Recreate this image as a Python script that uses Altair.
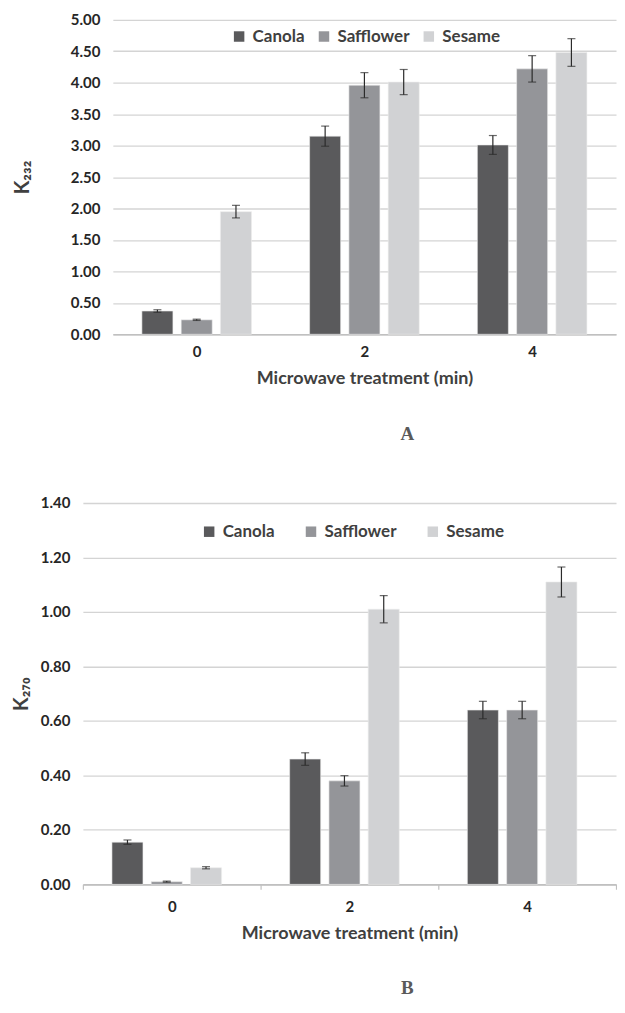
import altair as alt
import pandas as pd

treatments = ["0", "2", "4"]
oils = ["Canola", "Safflower", "Sesame"]
oil_colors = ["#5a5a5c", "#949599", "#d1d2d4"]

# Panel A: K232
k232_canola = [0.37, 3.15, 3.01]
k232_safflower = [0.23, 3.96, 4.22]
k232_sesame = [1.95, 4.01, 4.48]
k232_err_canola = [0.02, 0.16, 0.15]
k232_err_safflower = [0.01, 0.20, 0.21]
k232_err_sesame = [0.10, 0.20, 0.22]
k232_ticks = [0.0, 0.5, 1.0, 1.5, 2.0, 2.5, 3.0, 3.5, 4.0, 4.5, 5.0]

# Panel B: K270
k270_canola = [0.155, 0.46, 0.64]
k270_safflower = [0.01, 0.38, 0.64]
k270_sesame = [0.061, 1.01, 1.11]
k270_err_canola = [0.008, 0.023, 0.032]
k270_err_safflower = [0.002, 0.019, 0.032]
k270_err_sesame = [0.004, 0.05, 0.055]
k270_ticks = [0.0, 0.2, 0.4, 0.6, 0.8, 1.0, 1.2, 1.4]

FONT = "Lato"
TEXT = "#404040"


def build(values, errors):
    rows = []
    for oil, vals, errs in zip(oils, values, errors):
        for t, v, e in zip(treatments, vals, errs):
            rows.append({"treatment": t, "oil": oil, "value": v,
                         "lo": v - e, "hi": v + e})
    return pd.DataFrame(rows)


def panel(df, ticks, width, height, x_start, ytitle, letter, x_ticks,
          legend_x, legend_y, col_pad, ylab_pad, ytitle_pad, letter_dx, letter_offset):
    x = alt.X("treatment:N", sort=treatments,
              scale=alt.Scale(paddingInner=0, paddingOuter=0,
                              range=[x_start, width]),
              axis=alt.Axis(title="Microwave treatment (min)", labelAngle=0,
                            ticks=x_ticks, tickBand="extent", tickSize=5,
                            tickColor="#c0c0c0", tickWidth=1.2,
                            domainColor="#c0c0c0", domainWidth=1.6,
                            labelFont=FONT, labelFontSize=15, labelFontWeight="bold",
                            labelColor="#262626", labelPadding=10,
                            titleFont=FONT, titleFontSize=18, titleFontWeight="bold",
                            titleColor=TEXT, titlePadding=10, grid=False))
    xo = alt.XOffset("oil:N", sort=oils,
                     scale=alt.Scale(paddingInner=0.21, paddingOuter=0.74))
    yscale = alt.Scale(domain=[ticks[0], ticks[-1]], nice=False)
    yaxis = alt.Axis(title=ytitle, values=ticks, format=".2f",
                     domain=False, ticks=False, grid=True,
                     gridColor="#d4d4d4", gridWidth=1.3, offset=-x_start,
                     labelFont=FONT, labelFontSize=15, labelFontWeight="bold",
                     labelColor="#262626", labelPadding=ylab_pad,
                     titleFont=FONT, titleFontSize=20, titleFontWeight="bold",
                     titleColor=TEXT, titlePadding=ytitle_pad)
    bars = alt.Chart(df).mark_bar(stroke="#ececec", strokeWidth=0.6).encode(
        x=x, xOffset=xo,
        y=alt.Y("value:Q", scale=yscale, axis=yaxis),
        color=alt.Color("oil:N", sort=oils,
                        scale=alt.Scale(domain=oils, range=oil_colors),
                        legend=alt.Legend(orient="none", legendX=legend_x,
                                          legendY=legend_y, direction="horizontal",
                                          title=None, symbolType="square",
                                          symbolSize=110, symbolStrokeWidth=0,
                                          labelFont=FONT, labelFontSize=17,
                                          labelFontWeight="bold", labelColor=TEXT,
                                          columnPadding=col_pad, labelOffset=5)),
    )
    rules = alt.Chart(df).mark_rule(color="#2b2b2b", strokeWidth=1.2).encode(
        x=x, xOffset=xo,
        y=alt.Y("lo:Q", scale=yscale, axis=yaxis), y2="hi:Q")
    caps_lo = alt.Chart(df).mark_tick(color="#2b2b2b", thickness=1.2, size=8).encode(
        x=x, xOffset=xo, y=alt.Y("lo:Q", scale=yscale, axis=yaxis))
    caps_hi = alt.Chart(df).mark_tick(color="#2b2b2b", thickness=1.2, size=8).encode(
        x=x, xOffset=xo, y=alt.Y("hi:Q", scale=yscale, axis=yaxis))
    return alt.layer(bars, rules, caps_lo, caps_hi).properties(
        width=width, height=height,
        title=alt.TitleParams(letter, orient="bottom", anchor="middle", frame="group",
                              font="Liberation Serif", fontSize=19, fontWeight="bold",
                              color="#5a5a5a", offset=letter_offset, dx=letter_dx))


df_a = build([k232_canola, k232_safflower, k232_sesame],
             [k232_err_canola, k232_err_safflower, k232_err_sesame])
df_b = build([k270_canola, k270_safflower, k270_sesame],
             [k270_err_canola, k270_err_safflower, k270_err_sesame])

top = panel(df_a, k232_ticks, 534, 315, 30, "K₂₃₂", "A", False,
            148, 8, 10, 13, 38, 58, 38)
bottom = panel(df_b, k270_ticks, 534, 382, 0, "K₂₇₀", "B", True,
               118, 20, 27, 13, 9, 58, 37)

chart = alt.concat(top, bottom, columns=1, spacing=52).properties(
    padding={"left": 3, "top": 4, "right": 0, "bottom": 0}
).resolve_legend(color="independent").configure_view(stroke=None)

chart.save("out.html", embed_options={"renderer": "svg", "actions": False})
